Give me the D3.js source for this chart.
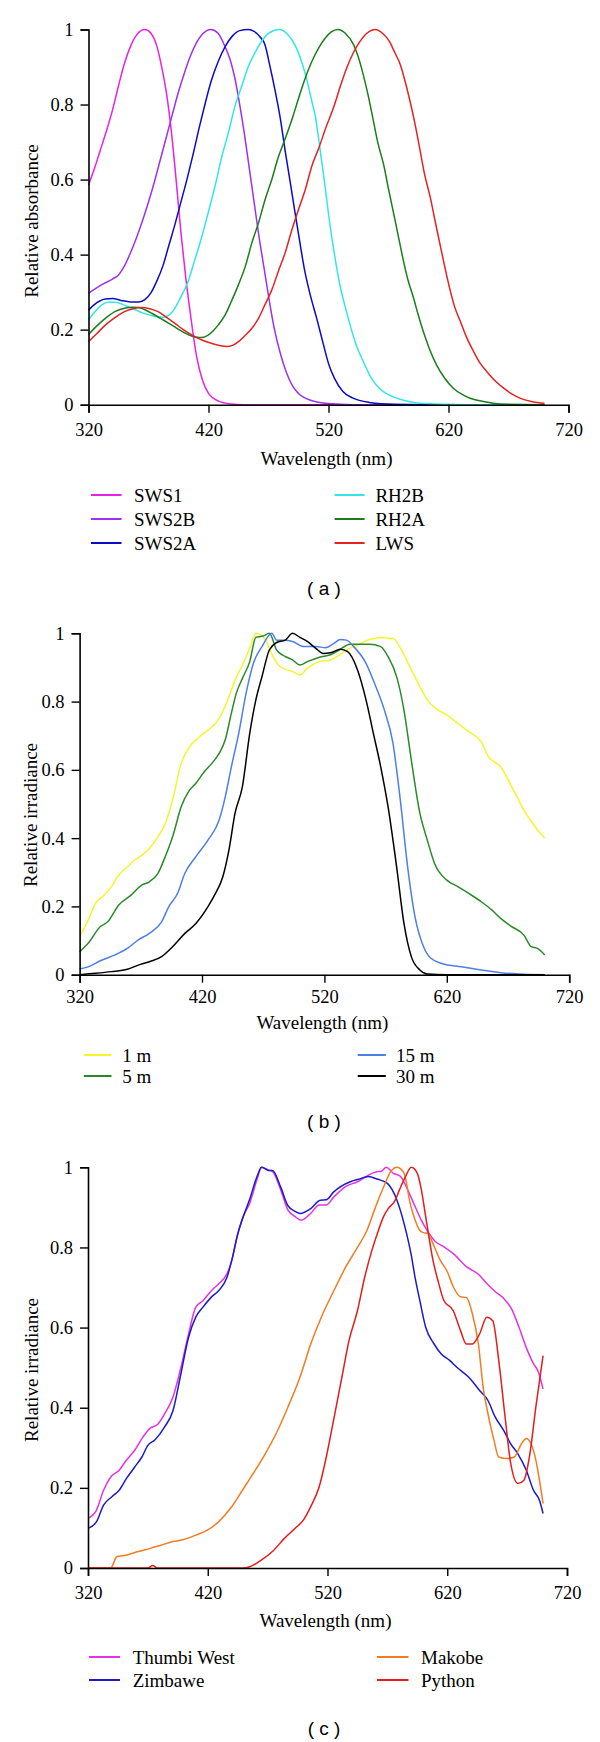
<!DOCTYPE html>
<html><head><meta charset="utf-8">
<script src="https://cdn.jsdelivr.net/npm/d3@7"></script>
<style>body{margin:0;background:#fff}svg{display:block}
.serif{font-family:"Liberation Serif","DejaVu Serif",serif;}
.sans{font-family:"Liberation Sans","DejaVu Sans",sans-serif;}
</style>
</head><body>
<svg id="chart" width="600" height="1742"></svg>
<script>
// ---------- Data (wavelength nm, relative value) ----------
const xTicks = [320, 420, 520, 620, 720];
const yTicks = [0, 0.2, 0.4, 0.6, 0.8, 1];
const yTickLabels = ["0", "0.2", "0.4", "0.6", "0.8", "1"];

// Panel (a): relative absorbance of visual pigments
const sws1 = [[320,0.585],[325,0.63],[330,0.68],[335,0.73],[340,0.785],[345,0.85],[350,0.91],[355,0.955],[360,0.985],[367,1.0],[372,0.99],[377,0.955],[381,0.9],[385,0.83],[389,0.73],[393,0.6],[397,0.46],[401,0.34],[405,0.24],[410,0.13],[415,0.065],[420,0.03],[428,0.01],[438,0.002],[450,0],[700,0]];
const sws2b = [[320,0.297],[330,0.318],[340,0.335],[345,0.346],[350,0.37],[355,0.405],[360,0.445],[365,0.49],[370,0.54],[375,0.595],[380,0.655],[385,0.715],[390,0.775],[395,0.834],[400,0.885],[405,0.93],[410,0.965],[415,0.988],[422,1.0],[428,0.99],[433,0.96],[438,0.92],[442,0.87],[446,0.8],[450,0.72],[454,0.63],[458,0.54],[462,0.45],[466,0.37],[470,0.29],[475,0.2],[480,0.135],[485,0.085],[490,0.05],[495,0.03],[505,0.012],[520,0.003],[540,0],[700,0]];
const sws2a = [[320,0.252],[327,0.272],[334,0.282],[340,0.283],[347,0.278],[355,0.274],[362,0.274],[367,0.28],[372,0.298],[377,0.33],[382,0.37],[387,0.425],[392,0.48],[397,0.54],[402,0.6],[407,0.665],[412,0.735],[417,0.8],[422,0.86],[428,0.914],[434,0.955],[440,0.983],[446,0.997],[453,1.0],[458,0.995],[463,0.98],[467,0.96],[471,0.905],[475,0.845],[480,0.76],[484,0.674],[488,0.595],[492,0.514],[496,0.435],[500,0.36],[505,0.29],[510,0.232],[515,0.17],[520,0.11],[525,0.07],[532,0.035],[540,0.018],[554,0.006],[575,0.001],[600,0],[700,0]];
const rh2b = [[320,0.226],[326,0.25],[331,0.266],[337,0.273],[342,0.273],[348,0.268],[353,0.261],[359,0.253],[364,0.246],[370,0.24],[376,0.235],[382,0.233],[387,0.239],[391,0.252],[395,0.275],[399,0.3],[403,0.328],[408,0.38],[414,0.443],[420,0.515],[426,0.59],[431,0.66],[437,0.73],[442,0.795],[448,0.852],[453,0.9],[459,0.94],[465,0.972],[471,0.992],[479,1.0],[485,0.99],[490,0.97],[494,0.945],[498,0.91],[502,0.865],[506,0.81],[509,0.77],[513,0.68],[517,0.585],[521,0.485],[525,0.4],[529.5,0.319],[534,0.26],[538,0.212],[543,0.16],[549,0.115],[555,0.075],[560,0.052],[567,0.032],[574,0.021],[585,0.01],[596,0.004],[620,0.001],[640,0],[700,0]];
const rh2a = [[320,0.187],[327,0.21],[334,0.23],[342,0.248],[350,0.257],[356,0.26],[362,0.259],[367,0.253],[373,0.243],[380,0.23],[387,0.217],[394,0.203],[401,0.19],[406,0.183],[412,0.179],[416,0.18],[420,0.186],[424,0.197],[428,0.212],[434,0.24],[439,0.275],[445,0.32],[451,0.372],[456,0.43],[462,0.488],[467,0.545],[473,0.603],[478,0.658],[484,0.71],[490,0.765],[495,0.816],[500,0.865],[506,0.914],[512,0.952],[517,0.976],[522,0.993],[528,1.0],[534,0.99],[541,0.959],[545,0.925],[549,0.879],[553,0.825],[557,0.763],[561,0.7],[566,0.639],[570,0.575],[574,0.514],[578,0.452],[582,0.39],[586,0.335],[591,0.283],[595,0.237],[599,0.195],[604,0.15],[610,0.106],[617,0.07],[624,0.044],[631,0.028],[638,0.017],[648,0.009],[657,0.004],[670,0.001],[700,0]];
const lws = [[320,0.168],[327,0.19],[334,0.212],[342,0.232],[350,0.248],[357,0.256],[364,0.259],[371,0.256],[378,0.248],[385,0.233],[392,0.217],[399,0.2],[406,0.186],[414,0.173],[423,0.163],[430,0.157],[435,0.155],[440,0.158],[445,0.168],[450,0.183],[456,0.203],[462,0.232],[467,0.266],[473,0.308],[478,0.354],[484,0.406],[489,0.461],[495,0.52],[501,0.577],[506,0.635],[512,0.685],[518,0.74],[524,0.79],[530,0.85],[535,0.896],[541,0.94],[546,0.967],[552,0.99],[559,1.0],[565,0.99],[571,0.967],[575,0.94],[580,0.905],[584,0.86],[588,0.808],[592,0.75],[596,0.683],[600,0.615],[605,0.55],[609,0.487],[613,0.426],[617,0.366],[621,0.31],[625,0.262],[630,0.221],[635,0.18],[641,0.141],[646,0.112],[652,0.088],[659,0.063],[666,0.044],[673,0.028],[680,0.017],[690,0.008],[700,0.004]];

// Panel (b): relative irradiance at depth
const depth1m = [[320,0.111],[327,0.16],[333,0.209],[340,0.233],[346,0.258],[352,0.292],[359,0.316],[365,0.336],[371,0.35],[377,0.37],[384,0.404],[390,0.443],[396,0.512],[403,0.619],[409,0.663],[418,0.697],[425,0.717],[431,0.736],[437,0.771],[442,0.814],[447,0.863],[453,0.907],[459,0.956],[464,1.0],[472,0.98],[478,0.932],[484,0.902],[494,0.888],[500,0.878],[506,0.897],[516,0.917],[525,0.922],[532,0.936],[538,0.951],[547,0.966],[557,0.982],[566,0.987],[576,0.985],[583,0.951],[591,0.893],[598,0.844],[604,0.805],[613,0.775],[620,0.761],[629,0.736],[638,0.712],[648,0.683],[654,0.639],[664,0.609],[673,0.551],[683,0.482],[692,0.434],[700,0.4]];
const depth5m = [[320,0.067],[327,0.092],[337,0.141],[343,0.155],[352,0.204],[362,0.233],[371,0.263],[377,0.272],[384,0.297],[390,0.346],[396,0.404],[403,0.492],[409,0.536],[415,0.561],[422,0.595],[428,0.619],[434,0.648],[439,0.688],[444,0.766],[448,0.824],[453,0.868],[459,0.917],[464,0.988],[470,0.992],[475,1.0],[481,0.951],[488,0.932],[494,0.922],[500,0.907],[506,0.917],[516,0.93],[525,0.937],[532,0.951],[541,0.968],[557,0.968],[566,0.961],[572,0.932],[579,0.873],[585,0.775],[591,0.629],[598,0.473],[604,0.395],[610,0.326],[620,0.277],[629,0.258],[638,0.238],[648,0.214],[657,0.189],[664,0.165],[673,0.141],[683,0.116],[689,0.082],[694,0.077],[700,0.058]];
const depth15m = [[320,0.017],[327,0.023],[337,0.041],[349,0.058],[359,0.077],[368,0.102],[377,0.121],[387,0.155],[393,0.2],[400,0.238],[406,0.297],[415,0.346],[425,0.395],[434,0.453],[439,0.521],[444,0.609],[450,0.707],[456,0.824],[462,0.912],[469,0.961],[477,1.0],[481,0.98],[488,0.98],[494,0.976],[503,0.961],[513,0.961],[521,0.958],[528,0.971],[533,0.982],[538,0.98],[544,0.961],[554,0.912],[561,0.853],[569,0.775],[576,0.678],[582,0.512],[588,0.316],[594,0.17],[601,0.082],[607,0.048],[616,0.033],[632,0.023],[648,0.014],[664,0.006],[679,0.002],[700,0]];
const depth30m = [[320,0],[333,0.004],[346,0.009],[359,0.016],[368,0.028],[377,0.038],[387,0.053],[396,0.082],[406,0.121],[415,0.15],[425,0.2],[431,0.238],[437,0.287],[442,0.365],[447,0.473],[453,0.551],[459,0.707],[464,0.805],[469,0.873],[475,0.951],[481,0.973],[488,0.98],[494,1.0],[500,0.988],[506,0.976],[513,0.956],[519,0.941],[525,0.943],[533,0.953],[539,0.946],[547,0.893],[554,0.805],[560,0.707],[566,0.609],[572,0.492],[579,0.316],[585,0.15],[591,0.053],[598,0.014],[604,0.002],[620,0],[700,0]];

// Panel (c): relative irradiance at sites
const thumbiWest = [[320,0.124],[327,0.144],[333,0.194],[339,0.227],[346,0.244],[352,0.269],[359,0.294],[365,0.323],[372,0.349],[378,0.358],[384,0.385],[391,0.427],[397,0.493],[404,0.584],[410,0.651],[416,0.667],[423,0.692],[429,0.709],[436,0.734],[440,0.767],[445,0.833],[450,0.88],[455,0.91],[461,0.968],[465,1.0],[471,0.993],[474,0.99],[481,0.943],[487,0.893],[493,0.877],[498,0.868],[506,0.885],[513,0.906],[519,0.906],[525,0.925],[535,0.952],[545,0.964],[554,0.98],[561,0.989],[565,0.99],[569,1.0],[575,0.985],[581,0.977],[586,0.95],[592,0.91],[598,0.87],[603,0.843],[610,0.815],[617,0.802],[626,0.782],[636,0.752],[646,0.733],[653,0.71],[660,0.69],[667,0.673],[674,0.645],[680,0.6],[686,0.55],[692,0.51],[696,0.49],[700,0.447]];
const zimbawe = [[320,0.099],[327,0.115],[333,0.157],[340,0.178],[346,0.194],[352,0.223],[359,0.252],[365,0.277],[370,0.306],[376,0.32],[384,0.352],[391,0.393],[397,0.476],[404,0.576],[410,0.626],[416,0.651],[423,0.676],[429,0.692],[436,0.725],[440,0.767],[445,0.833],[450,0.88],[455,0.92],[461,0.976],[465,1.0],[471,0.992],[474,0.992],[481,0.95],[487,0.904],[493,0.89],[497,0.885],[506,0.897],[514,0.918],[519,0.919],[525,0.938],[539,0.964],[546,0.97],[554,0.977],[562,0.97],[570,0.96],[578,0.918],[586,0.835],[590,0.78],[593,0.727],[597,0.669],[602,0.601],[609,0.559],[615,0.534],[622,0.518],[628,0.501],[638,0.476],[647,0.443],[654,0.418],[660,0.377],[667,0.344],[673,0.31],[679,0.285],[686,0.244],[692,0.194],[697,0.169],[700,0.136]];
const makobe = [[320,0],[339,0],[344,0.028],[352,0.032],[362,0.041],[372,0.049],[381,0.057],[391,0.066],[400,0.071],[410,0.082],[420,0.095],[429,0.115],[439,0.149],[449,0.194],[458,0.236],[468,0.285],[477,0.335],[487,0.402],[497,0.476],[506,0.559],[516,0.634],[525,0.69],[535,0.75],[545,0.8],[553,0.843],[560,0.9],[567,0.952],[573,0.99],[578,1.0],[584,0.985],[589,0.91],[593,0.87],[597,0.843],[600,0.837],[604,0.835],[608,0.81],[614,0.769],[620,0.74],[625,0.702],[631,0.677],[636,0.675],[641,0.634],[646,0.559],[650,0.451],[654,0.385],[659,0.319],[663,0.277],[670,0.273],[676,0.277],[682,0.31],[686,0.323],[690,0.31],[694,0.269],[697,0.219],[700,0.161]];
const python = [[320,0],[370,0],[374,0.006],[378,0],[450,0],[455,0.003],[465,0.02],[474,0.041],[484,0.074],[493,0.099],[500,0.12],[506,0.153],[513,0.202],[519,0.277],[525,0.368],[532,0.476],[538,0.568],[545,0.642],[551,0.725],[557,0.792],[562,0.838],[567,0.878],[571,0.898],[576,0.915],[580,0.943],[585,0.976],[590,1.0],[595,0.985],[598,0.95],[602,0.877],[608,0.769],[612,0.72],[617,0.669],[625,0.642],[631,0.593],[636,0.559],[641,0.559],[647,0.584],[653,0.626],[658,0.617],[663,0.518],[668,0.385],[673,0.261],[679,0.211],[684,0.219],[689,0.285],[694,0.402],[700,0.53]];

const panelA = {
  series: [sws1, sws2b, sws2a, rh2b, rh2a, lws],
  names: ["SWS1","SWS2B","SWS2A","RH2B","RH2A","LWS"],
  colors: ["#e622e6","#9a32f0","#0b0bc4","#33e6e6","#1b7d1b","#e52222"],
  yTitle: "Relative absorbance", letter: "( a )"
};
const panelB = {
  series: [depth1m, depth5m, depth15m, depth30m],
  names: ["1 m","5 m","15 m","30 m"],
  colors: ["#f5f52a","#2a8a2a","#4d7fe6","#000000"],
  yTitle: "Relative irradiance", letter: "( b )"
};
const panelC = {
  series: [thumbiWest, zimbawe, makobe, python],
  names: ["Thumbi West","Zimbawe","Makobe","Python"],
  colors: ["#e333e3","#1a1ac8","#f27c22","#e41c1c"],
  yTitle: "Relative irradiance", letter: "( c )"
};

// ---------- Layout ----------
const layouts = [
  { p: panelA, x0: 88.5, x1: 568.5, yTop: 29.5, yBot: 404.7, tickPad: 10, titleY: 458, yTitleX: 31, yTitleY: 221,
    legRows: [495, 519, 543], col1: [91, 121.5, 134], col2: [334.6, 364.6, 375.4],
    legOrder: [[0,0,0],[1,0,1],[2,0,2],[3,1,0],[4,1,1],[5,1,2]], letterY: 588 },
  { p: panelB, x0: 79.6, x1: 569.2, yTop: 633.3, yBot: 974.7, tickPad: 7, titleY: 1022.7, yTitleX: 30, yTitleY: 815,
    legRows: [1055, 1076], col1: [83.8, 111.5, 122.3], col2: [357.7, 385.8, 396],
    legOrder: [[0,0,0],[1,0,1],[2,1,0],[3,1,1]], letterY: 1121.7 },
  { p: panelC, x0: 88, x1: 567, yTop: 1167.3, yBot: 1568, tickPad: 10, titleY: 1620, yTitleX: 31, yTitleY: 1370,
    legRows: [1657, 1680], col1: [89, 120, 132.7], col2: [377, 408.5, 421],
    legOrder: [[0,0,0],[1,0,1],[2,1,0],[3,1,1]], letterY: 1728 }
];

const svg = d3.select("#chart");

layouts.forEach(L => {
  const x = d3.scaleLinear().domain([320, 720]).range([L.x0, L.x1]);
  const y = d3.scaleLinear().domain([0, 1]).range([L.yBot, L.yTop]);
  const g = svg.append("g");

  const line = d3.line().x(d => x(d[0])).y(d => y(d[1])).curve(d3.curveMonotoneX);
  L.p.series.forEach((s, i) => {
    g.append("path").attr("d", line(s)).attr("fill", "none")
      .attr("stroke", L.p.colors[i]).attr("stroke-width", 1.5).attr("stroke-linejoin", "round");
  });

  const xAxis = g.append("g").attr("transform", `translate(0,${L.yBot})`)
    .call(d3.axisBottom(x).tickValues(xTicks).tickFormat(d3.format("d")).tickSizeOuter(0).tickSize(8).tickPadding(L.tickPad));
  const yAxis = g.append("g").attr("transform", `translate(${L.x0},0)`)
    .call(d3.axisLeft(y).tickValues(yTicks).tickFormat((d, i) => yTickLabels[i]).tickSizeOuter(0).tickSize(8).tickPadding(7));
  [xAxis, yAxis].forEach(a => {
    a.attr("font-family", null).attr("font-size", null);
    a.select(".domain").attr("stroke", "#000").attr("stroke-width", 1.6);
    a.selectAll(".tick line").attr("stroke", "#000").attr("stroke-width", 1.4);
    a.selectAll("text").attr("class", "serif").style("font-size", "18.5px").attr("fill", "#000");
  });

  g.append("text").attr("class", "serif").attr("x", (L.x0 + L.x1) / 2 - 2).attr("y", L.titleY).attr("dy", "0.35em")
    .attr("text-anchor", "middle").style("font-size", "19px").attr("fill", "#000")
    .text("Wavelength (nm)");
  g.append("text").attr("class", "serif").attr("transform", `translate(${L.yTitleX},${L.yTitleY}) rotate(-90)`)
    .attr("text-anchor", "middle").attr("dy", "0.35em").style("font-size", "19px").attr("fill", "#000")
    .text(L.p.yTitle);

  L.legOrder.forEach(([si, col, row]) => {
    const c = col === 0 ? L.col1 : L.col2;
    const yy = L.legRows[row];
    g.append("line").attr("x1", c[0]).attr("x2", c[1]).attr("y1", yy).attr("y2", yy)
      .attr("stroke", L.p.colors[si]).attr("stroke-width", 2);
    g.append("text").attr("class", "serif").attr("x", c[2]).attr("y", yy).attr("dy", "0.35em")
      .style("font-size", "19px").attr("fill", "#000").text(L.p.names[si]);
  });

  g.append("text").attr("class", "sans").attr("x", 324).attr("y", L.letterY).attr("dy", "0.35em").attr("text-anchor", "middle")
    .style("font-size", "19px").attr("fill", "#000").text(L.p.letter);
});
</script>
</body></html>
